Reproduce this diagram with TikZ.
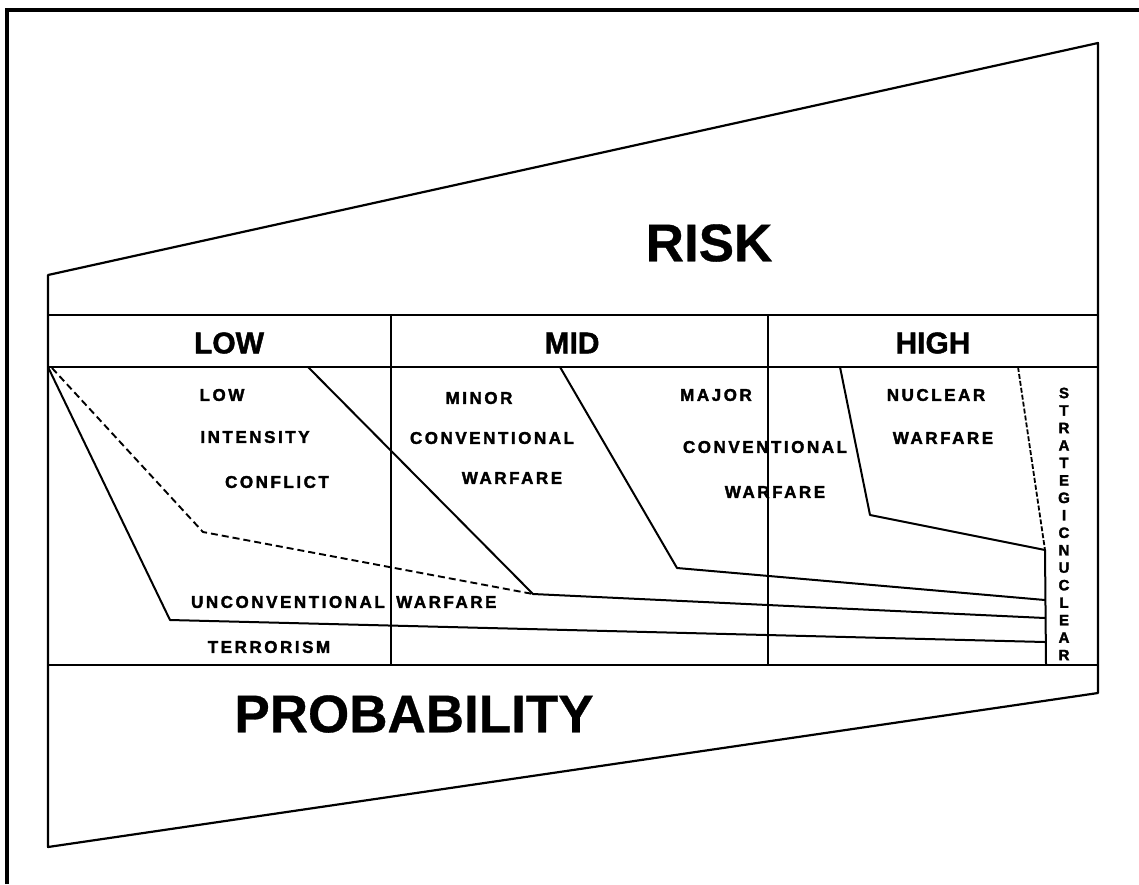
\documentclass[tikz,border=0pt]{standalone}
\usepackage{fontspec}
\setmainfont{Liberation Sans}
\newfontfamily\lblfont{Liberation Sans}[UprightFont=* Bold, LetterSpace=15, FakeBold=2]
\newfontfamily\headfont{Liberation Sans}[UprightFont=* Bold, FakeBold=1.5]
\newfontfamily\bigfont{Liberation Sans}[UprightFont=* Bold, FakeBold=0.6]
\newfontfamily\vertfont{Liberation Sans}[UprightFont=* Bold, FakeBold=2]
\begin{document}
\begin{tikzpicture}[x=1pt,y=-1pt,
  frame/.style={line width=3.4pt},
  edge/.style={line width=2.2pt, line join=round},
  rule/.style={line width=2pt},
  curve/.style={line width=2pt, line join=round},
  dashcurve/.style={line width=1.9pt, dash pattern=on 7pt off 4pt},
  finedash/.style={line width=1.8pt, dash pattern=on 5pt off 2pt},
  big/.style={font=\bigfont\fontsize{53}{60}\selectfont, inner sep=0pt},
  head/.style={font=\headfont\fontsize{30}{34}\selectfont, inner sep=0pt},
  lbl/.style={font=\lblfont\fontsize{17}{19}\selectfont, inner sep=0pt},
  vl/.style={font=\vertfont\fontsize{15}{16}\selectfont, inner sep=0pt},
]
\useasboundingbox (0,0) rectangle (1139,884);
\fill[white] (0,0) rectangle (1139,884);

% outer frame (partly outside the picture)
\coordinate (f1) at (7,884);
\coordinate (f2) at (7,10);
\coordinate (f3) at (1139,10);
\draw[frame] (f1) -- (f2) -- (f3);

% trapezoid
\coordinate (bl) at (48,847);
\coordinate (tl) at (48,275);
\coordinate (tr) at (1098,43);
\coordinate (br) at (1098,693);
\draw[edge] (bl) -- (tl) -- (tr) -- (br) -- cycle;

% header band and table
\coordinate (h1l) at (48,315);  \coordinate (h1r) at (1098,315);
\coordinate (h2l) at (48,367);  \coordinate (h2r) at (1098,367);
\coordinate (h3l) at (48,665);  \coordinate (h3r) at (1098,665);
\draw[rule] (h1l) -- (h1r);
\draw[rule] (h2l) -- (h2r);
\draw[rule] (h3l) -- (h3r);
\coordinate (d1t) at (391,315); \coordinate (d1b) at (391,665);
\coordinate (d2t) at (768,315); \coordinate (d2b) at (768,665);

% labels
\node[big] (risk) at (709,243) {RISK};
\node[big] (prob) at (414,714) {PROBABILITY};
\node[head] (low) at (229,343) {LOW};
\node[head] (mid) at (572,343) {MID};
\node[head] (high) at (933,343) {HIGH};

\node[lbl] (l1) at (222,395) {LOW};
\node[lbl] (l2) at (255,437) {INTENSITY};
\node[lbl] (l3) at (277,482) {CONFLICT};
\node[lbl] (m1) at (479,398) {MINOR};
\node[lbl] (m2) at (492,438) {CONVENTIONAL};
\node[lbl] (m3) at (512,478) {WARFARE};
\node[lbl] (j1) at (716,395) {MAJOR};
\node[lbl] (j2) at (765,447) {CONVENTIONAL};
\node[lbl] (j3) at (775,492) {WARFARE};
\node[lbl] (n1) at (936,395) {NUCLEAR};
\node[lbl] (n2) at (943,438) {WARFARE};
\node[lbl, anchor=east] (u1) at (385,602) {UNCONVENTIONAL};
\node[lbl, anchor=west] (u2) at (396,602) {WARFARE};
\node[lbl] (t1) at (269,647) {TERRORISM};

\foreach \ch [count=\i from 0] in {S,T,R,A,T,E,G,I,C,N,U,C,L,E,A,R}
  \node[vl] (sn\i) at (1064,393+\i*17.47) {\ch};

% column dividers (drawn over the text they cross)
\draw[rule] (d1t) -- (d1b);
\draw[rule] (d2t) -- (d2b);

% boundary curves
\coordinate (o) at (48,367);
\coordinate (a1) at (170,620);
\coordinate (a2) at (1045,642);
\draw[curve] (o) -- (a1) -- (a2);

\coordinate (ds) at (52,368);
\coordinate (dk) at (203,532);
\coordinate (dm) at (533,594);
\draw[dashcurve] (ds) -- (dk) -- (dm);

\coordinate (c0) at (308,367);
\coordinate (c2) at (1045,618);
\draw[curve] (c0) -- (dm) -- (c2);

\coordinate (m0) at (560,367);
\coordinate (mk) at (677,568);
\coordinate (me) at (1045,600);
\draw[curve] (m0) -- (mk) -- (me);

\coordinate (n0) at (840,367);
\coordinate (nk) at (870,515);
\coordinate (ne) at (1045,550);
\coordinate (nb) at (1046,665);
\draw[curve] (n0) -- (nk) -- (ne) -- (nb);

\coordinate (s0) at (1018,367);
\draw[finedash] (s0) -- (ne);
\end{tikzpicture}
\end{document}
